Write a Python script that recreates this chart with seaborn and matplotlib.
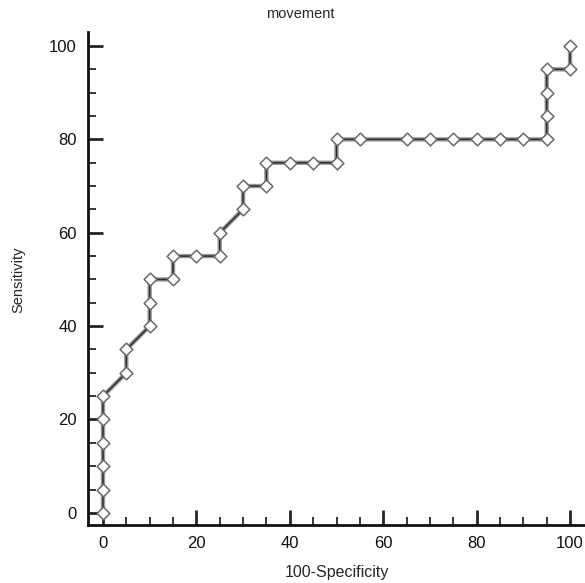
import numpy as np
import pandas as pd
import matplotlib
matplotlib.use("Agg")
import matplotlib.pyplot as plt
import seaborn as sns
from matplotlib.ticker import MultipleLocator

# ROC points
fpr = [0, 0, 0, 0, 0, 0, 5, 5, 10, 10, 10, 15, 15, 20, 25, 25, 30, 30, 35, 35,
       40, 45, 50, 50, 55, 65, 70, 75, 80, 85, 90, 95, 95, 95, 95, 100, 100]
tpr = [0, 5, 10, 15, 20, 25, 30, 35, 40, 45, 50, 50, 55, 55, 55, 60, 65, 70, 70, 75,
       75, 75, 75, 80, 80, 80, 80, 80, 80, 80, 80, 80, 85, 90, 95, 95, 100]
x_ticks = [0, 20, 40, 60, 80, 100]
y_ticks = [0, 20, 40, 60, 80, 100]

df = pd.DataFrame({"fpr": fpr, "tpr": tpr})

sns.set_style("white")
plt.rcParams["font.family"] = ["Liberation Sans", "DejaVu Sans"]

fig = plt.figure(figsize=(5.85, 5.83), dpi=100)
ax = fig.add_axes([88 / 585, 58 / 583, 1 - 88 / 585, (525 - 32) / 583])

# double line: grey outer, dark core
sns.lineplot(data=df, x="fpr", y="tpr", ax=ax, sort=False, color="#9a9a9a",
             linewidth=3.2, estimator=None)
sns.lineplot(data=df, x="fpr", y="tpr", ax=ax, sort=False, color="#2a2a2a",
             linewidth=1.1, estimator=None)
sns.scatterplot(data=df, x="fpr", y="tpr", ax=ax, marker="D", s=42,
                facecolor="white", edgecolor="#6a6a6a", linewidth=1.1, zorder=5)

ax.set_xlim(-3.2, 103.2)
ax.set_ylim(-2.6, 103)
ax.set_xticks(x_ticks)
ax.set_yticks(y_ticks)
ax.xaxis.set_minor_locator(MultipleLocator(5))
ax.yaxis.set_minor_locator(MultipleLocator(5))
ax.tick_params(which="major", direction="in", length=11, width=2, labelsize=12,
               pad=8, labelcolor="#111111")
ax.tick_params(which="minor", direction="in", length=6, width=1.3)
ax.tick_params(axis="x", which="both", bottom=True)
ax.tick_params(axis="y", which="both", left=True)
for side in ["top", "right"]:
    ax.spines[side].set_visible(False)
for side in ["left", "bottom"]:
    ax.spines[side].set_linewidth(2)
    ax.spines[side].set_color("#111111")

ax.set_xlabel("")
ax.set_ylabel("")
fig.text(337 / 585, 1 - 572 / 583, "100-Specificity", ha="center", va="center", fontsize=11.5)
fig.text(18 / 585, 1 - 280 / 583, "Sensitivity", ha="center", va="center",
         rotation=90, fontsize=10.5)
fig.text(300 / 585, 1 - 14 / 583, "movement", ha="center", va="center", fontsize=10.5)

fig.savefig("out.png", dpi=100)
